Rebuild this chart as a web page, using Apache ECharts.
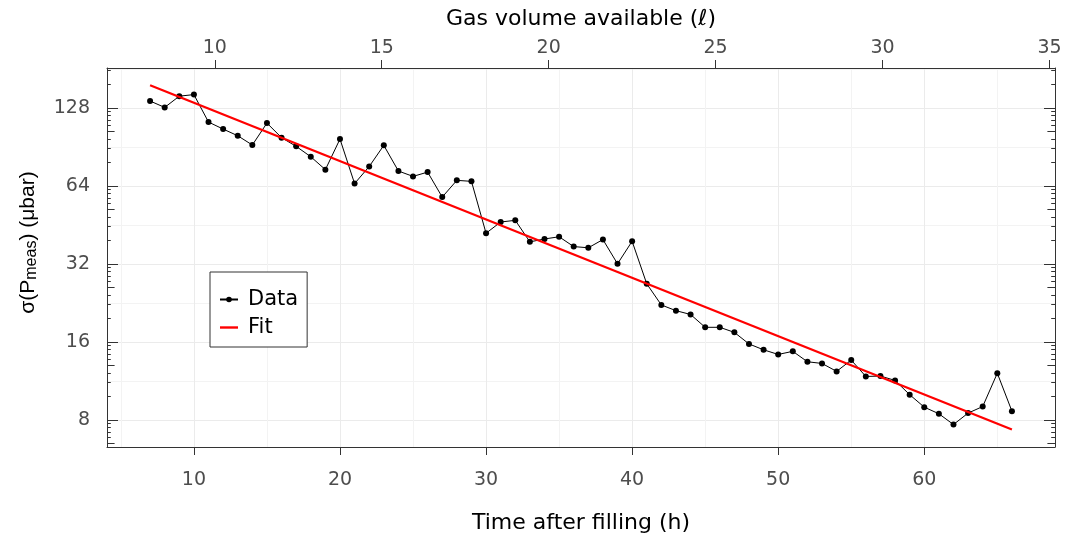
<!DOCTYPE html>
<html><head><meta charset="utf-8">
<script src="https://cdn.jsdelivr.net/npm/echarts@6/dist/echarts.min.js"></script>
<style>html,body{margin:0;padding:0;background:#fff}#c{width:1067px;height:535px}</style>
</head><body><div id="c"></div>
<script>
// ---- data ----
const hours = [7,8,9,10,11,12,13,14,15,16,17,18,19,20,21,22,23,24,25,26,27,28,29,30,31,32,33,34,35,36,37,38,39,40,41,42,43,44,45,46,47,48,49,50,51,52,53,54,55,56,57,58,59,60,61,62,63,64,65,66];
const sigma = [136,128.5,142,144,112.8,106,99.9,92,111.8,98.2,90.9,82.9,73.9,97,65.3,76,91.7,73,69.6,72.3,57.9,67.2,66.6,42,46.4,47.1,38.9,39.9,40.7,37.3,36.9,39.7,32.0,39.1,26.8,22.2,21.1,20.4,18.2,18.2,17.4,15.7,14.9,14.3,14.7,13.4,13.2,12.3,13.6,11.76,11.8,11.35,10.0,8.95,8.44,7.67,8.49,9.0,12.1,8.64];
const fitHours = [7, 66];
const fitSigma = [156.4, 7.34];
const timeTicks = [10,20,30,40,50,60];
const timeMinorTicks = [5,15,25,35,45,55,65];
const volumeTicks = [10,15,20,25,30,35];
const sigmaMinorLog2 = [3.5,4.5,5.5,6.5,7.5];

// ---- axis extents ----
const X_MIN = 4.05, X_MAX = 68.95;
const VOL_OFFSET = 5, VOL_PER_HOUR = 0.4375;
const Y_MIN_LOG2 = 2.651, Y_MAX_LOG2 = 7.511;
const Y_MIN = Math.pow(2, Y_MIN_LOG2), Y_MAX = Math.pow(2, Y_MAX_LOG2);

// annotation_logticks positions (log2 units): n + log10(k)
const shortTicks = [], midTicks = [];
for (let n = 2; n <= 7; n++) {
  for (let k = 2; k <= 9; k++) {
    const v = n + Math.log10(k);
    if (v > Y_MIN_LOG2 && v < Y_MAX_LOG2) (k === 5 ? midTicks : shortTicks).push(v);
  }
}

const FONT = 'DejaVu Sans';
const INK = '#333333';
const LABEL = '#4d4d4d';

function tickAxisY(pos, vals, len) {
  return {
    type: 'value', position: pos, min: Y_MIN_LOG2, max: Y_MAX_LOG2,
    axisLine: {show: false},
    axisTick: {show: true, inside: true, length: len, customValues: vals, lineStyle: {color: INK, width: 1}},
    axisLabel: {show: false}, splitLine: {show: false}
  };
}

const chart = echarts.init(document.getElementById('c'), null, {renderer: 'canvas'});
chart.setOption({
  backgroundColor: '#ffffff',
  animation: false,
  grid: {left: 107, right: 12, top: 68, bottom: 88, containLabel: false, outerBoundsMode: 'none'},
  legend: {
    data: [
      {name: 'Data'},
      {name: 'Fit', icon: 'path://M0,0L18,0L18,2.4L0,2.4Z', itemStyle: {color: '#ff0000'}}
    ],
    orient: 'vertical', left: 210, top: 272,
    borderColor: INK, borderWidth: 1, backgroundColor: '#fff',
    padding: [17, 9, 9, 9], itemWidth: 18, itemHeight: 7, itemGap: 7,
    textStyle: {fontFamily: FONT, fontSize: 21, color: '#000', padding: [0, 0, 0, 5]}
  },
  xAxis: [
    {
      type: 'value', position: 'bottom', min: X_MIN, max: X_MAX,
      axisLine: {show: true, onZero: false, lineStyle: {color: INK, width: 1}},
      axisTick: {show: true, length: 8, customValues: timeTicks, lineStyle: {color: INK, width: 1}},
      axisLabel: {customValues: timeTicks, fontFamily: FONT, fontSize: 19, color: LABEL, margin: 24},
      splitLine: {show: true, lineStyle: {color: '#ebebeb', width: 1}},
      name: 'Time after filling (h)', nameLocation: 'middle', nameGap: 65,
      nameTextStyle: {fontFamily: FONT, fontSize: 22, color: '#000'}
    },
    {
      type: 'value', position: 'top',
      min: VOL_OFFSET + VOL_PER_HOUR * X_MIN, max: VOL_OFFSET + VOL_PER_HOUR * X_MAX,
      axisLine: {show: true, onZero: false, lineStyle: {color: INK, width: 1}},
      axisTick: {show: true, length: 8, customValues: volumeTicks, lineStyle: {color: INK, width: 1}},
      axisLabel: {customValues: volumeTicks, fontFamily: FONT, fontSize: 19, color: LABEL, margin: 10},
      splitLine: {show: false},
      name: 'Gas volume available (ℓ)', nameLocation: 'middle', nameGap: 38,
      nameTextStyle: {fontFamily: FONT, fontSize: 22, color: '#000'}
    },
    {
      type: 'value', position: 'bottom', min: X_MIN, max: X_MAX,
      axisLine: {show: false}, axisLabel: {show: false},
      axisTick: {show: false, customValues: timeMinorTicks},
      splitLine: {show: true, lineStyle: {color: '#f3f3f3', width: 1}}
    }
  ],
  yAxis: [
    {
      type: 'log', logBase: 2, position: 'left', min: Y_MIN, max: Y_MAX,
      axisLine: {show: true, onZero: false, lineStyle: {color: INK, width: 1}},
      axisTick: {show: true, inside: true, length: 11, lineStyle: {color: INK, width: 1}},
      axisLabel: {fontFamily: FONT, fontSize: 19, color: LABEL, margin: 17, showMinLabel: false, showMaxLabel: false},
      splitLine: {show: true, lineStyle: {color: '#ebebeb', width: 1}},
      name: '{a|σ(P}{s|meas}{a|) (μbar)}', nameLocation: 'middle', nameGap: 67,
      nameTextStyle: {
        padding: [0, 0, 0, 30],
        rich: {
          a: {fontFamily: 'Liberation Sans', fontSize: 21, color: '#000', lineHeight: 24},
          s: {fontFamily: 'Liberation Sans', fontSize: 16, color: '#000', lineHeight: 16, verticalAlign: 'bottom'}
        }
      }
    },
    {
      type: 'log', logBase: 2, position: 'right', min: Y_MIN, max: Y_MAX,
      axisLine: {show: true, onZero: false, lineStyle: {color: INK, width: 1}},
      axisTick: {show: true, inside: true, length: 11, lineStyle: {color: INK, width: 1}},
      axisLabel: {show: false}, splitLine: {show: false}
    },
    tickAxisY('left', shortTicks, 3.8),
    tickAxisY('right', shortTicks, 3.8),
    tickAxisY('left', midTicks, 7.6),
    tickAxisY('right', midTicks, 7.6),
    {
      type: 'value', position: 'left', min: Y_MIN_LOG2, max: Y_MAX_LOG2,
      axisLine: {show: false}, axisLabel: {show: false},
      axisTick: {show: false, customValues: sigmaMinorLog2},
      splitLine: {show: true, lineStyle: {color: '#f3f3f3', width: 1}}
    }
  ],
  series: [
    {
      name: 'Data', type: 'line', xAxisIndex: 0, yAxisIndex: 0,
      data: hours.map((h, i) => [h, sigma[i]]),
      symbol: 'circle', symbolSize: 6, showSymbol: true,
      itemStyle: {color: '#000'}, lineStyle: {color: '#000', width: 1}, z: 3
    },
    {
      name: 'Fit', type: 'line', xAxisIndex: 0, yAxisIndex: 0,
      data: fitHours.map((h, i) => [h, fitSigma[i]]),
      symbol: 'none', itemStyle: {color: '#ff0000'}, lineStyle: {color: '#ff0000', width: 2.3}, z: 4
    }
  ]
});
</script></body></html>
